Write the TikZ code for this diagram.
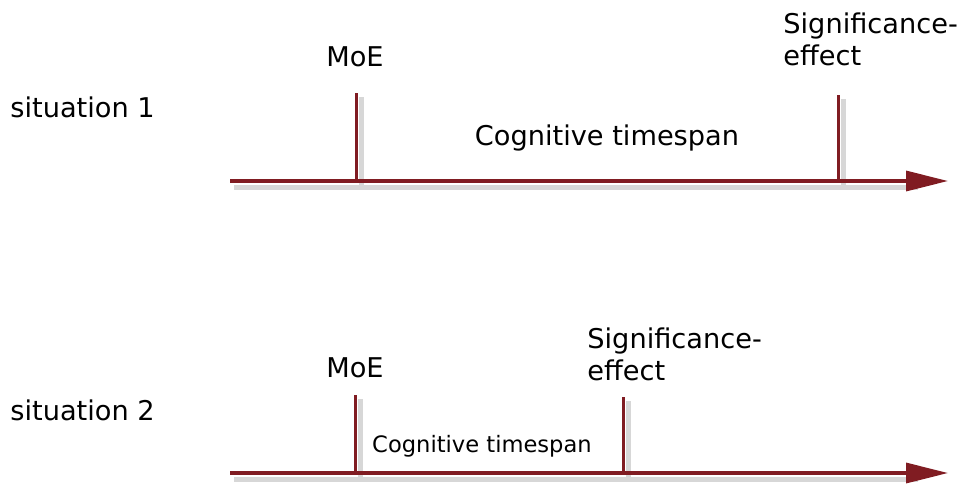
\documentclass[tikz,border=0pt]{standalone}
\usepackage{fontspec}
\setmainfont{DejaVu Sans}
\usepackage{tikz}
\usetikzlibrary{arrows.meta,positioning}
\definecolor{axisred}{RGB}{128,28,34}

\begin{document}
\begin{tikzpicture}[x=0.5pt,y=-0.5pt,
    axis/.style={draw=axisred,line width=1.6pt,-{Triangle[length=21pt,width=10pt]}},
    tick/.style={draw=axisred,line width=1.5pt},
    shadow/.style={draw=black!35,line width=2.5pt,opacity=0.45},
    label/.style={inner sep=0pt,font=\fontsize{13.6}{16}\selectfont},
    small/.style={inner sep=0pt,font=\fontsize{11.3}{14}\selectfont}]
            \useasboundingbox (0,0) rectangle (964,489);

            % situation 1
            \coordinate (s1) at (230,181);
            \coordinate (e1) at (948,181);
            \coordinate (m1) at (356,181);
            \coordinate (mt1) at (356,93);
            \coordinate (f1) at (838,181);
            \coordinate (ft1) at (838,95);

            \node[label,anchor=west] (sit1) at (10,107) {situation 1};
            \node[label] (moe1) at (355,57) {MoE};
            \node[label,anchor=north west,align=left] (sig1) at (783,12) {Significance-\\effect};
            \node[label] (cog1) at (607,138) {Cognitive timespan};

            \draw[shadow] ([shift={(4,6)}]s1) -- ([shift={(-30,6)}]e1);
            \draw[shadow] ([shift={(5,4)}]mt1) -- ([shift={(5,4)}]m1);
            \draw[shadow] ([shift={(5,4)}]ft1) -- ([shift={(5,4)}]f1);
            \draw[axis] (s1) -- (e1);
            \draw[tick] (mt1) -- (m1);
            \draw[tick] (ft1) -- (f1);

            % situation 2
            \coordinate (s2) at (230,473);
            \coordinate (e2) at (948,473);
            \coordinate (m2) at (355,473);
            \coordinate (mt2) at (355,395);
            \coordinate (f2) at (623,473);
            \coordinate (ft2) at (623,397);

            \node[label,anchor=west] (sit2) at (10,410) {situation 2};
            \node[label] (moe2) at (355,368) {MoE};
            \node[label,anchor=north west,align=left] (sig2) at (587,327) {Significance-\\effect};
            \node[small] (cog2) at (482,446) {Cognitive timespan};

            \draw[shadow] ([shift={(4,6)}]s2) -- ([shift={(-30,6)}]e2);
            \draw[shadow] ([shift={(5,4)}]mt2) -- ([shift={(5,4)}]m2);
            \draw[shadow] ([shift={(5,4)}]ft2) -- ([shift={(5,4)}]f2);
            \draw[axis] (s2) -- (e2);
            \draw[tick] (mt2) -- (m2);
            \draw[tick] (ft2) -- (f2);
\end{tikzpicture}
\end{document}
